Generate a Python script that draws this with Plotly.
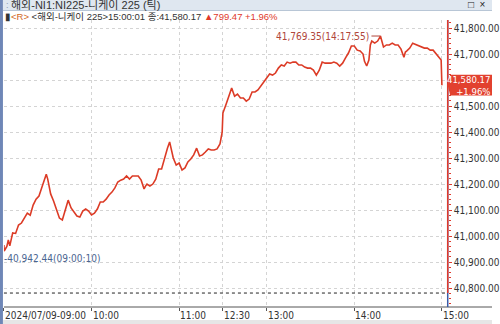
import plotly.graph_objects as go

# ---------------- data ----------------
times = [
    "09:00:00", "09:00:10", "09:02:00", "09:03:00", "09:04:00", "09:06:00", "09:08:00", "09:10:00",
    "09:12:00", "09:14:00", "09:16:00", "09:18:00", "09:20:00", "09:22:00", "09:24:00", "09:26:00",
    "09:28:00", "09:29:00", "09:30:00", "09:32:00", "09:34:00", "09:36:00", "09:38:00", "09:40:00",
    "09:42:00", "09:44:00", "09:46:00", "09:48:00", "09:50:00", "09:52:00", "09:54:00", "09:56:00",
    "09:58:00", "10:00:00", "10:02:00", "10:04:00", "10:06:00", "10:08:00", "10:10:00", "10:12:00",
    "10:14:00", "10:16:00", "10:18:00", "10:20:00", "10:22:00", "10:24:00", "10:26:00", "10:28:00",
    "10:30:00", "10:32:00", "10:34:00", "10:36:00", "10:37:00", "10:38:00", "10:40:00", "10:42:00",
    "10:44:00", "10:46:00", "10:48:00", "10:50:00", "10:52:00", "10:53:30", "10:55:00", "10:56:00",
    "10:58:00", "11:00:00", "11:02:00", "11:04:00", "11:06:00", "11:08:00", "11:10:00", "11:12:00",
    "11:14:00", "11:16:00", "11:18:00", "11:20:00", "11:22:00", "11:24:00", "11:26:00", "11:28:00",
    "11:29:30",
    "12:30:00", "12:32:00", "12:34:00", "12:36:00", "12:38:00", "12:40:00", "12:42:00", "12:44:00",
    "12:46:00", "12:48:00", "12:50:00", "12:52:00", "12:54:00", "12:56:00", "12:58:00", "13:00:00",
    "13:02:00", "13:04:00", "13:06:00", "13:08:00", "13:10:00", "13:12:00", "13:14:00", "13:16:00",
    "13:18:00", "13:20:00", "13:22:00", "13:24:00", "13:26:00", "13:28:00", "13:30:00", "13:32:00",
    "13:34:00", "13:36:00", "13:38:00", "13:40:00", "13:42:00", "13:44:00", "13:46:00", "13:48:00",
    "13:50:00", "13:52:00", "13:54:00", "13:56:00", "13:58:00", "14:00:00", "14:02:00", "14:04:00",
    "14:06:00", "14:07:00", "14:08:30", "14:10:00", "14:11:00", "14:12:00", "14:14:00", "14:16:00",
    "14:17:55", "14:19:00", "14:20:00", "14:22:00", "14:24:00", "14:26:00", "14:28:00", "14:30:00",
    "14:32:00", "14:34:00", "14:35:00", "14:36:00", "14:38:00", "14:40:00", "14:42:00", "14:44:00",
    "14:46:00", "14:48:00", "14:50:00", "14:52:00", "14:54:00", "14:56:00", "14:58:00", "14:59:30",
    "15:00:01",
]
prices = [
    40965, 40942.44, 40960, 40985, 40962, 41012, 41010, 41042,
    41050, 41069, 41088, 41080, 41119, 41142, 41154, 41188,
    41227, 41238, 41219, 41162, 41135, 41100, 41069, 41062,
    41100, 41138, 41108, 41092, 41077, 41073, 41096, 41104,
    41096, 41081, 41088, 41104, 41131, 41131, 41142, 41158,
    41169, 41185, 41208, 41215, 41219, 41231, 41219, 41231,
    41231, 41231, 41215, 41181, 41192, 41200, 41192, 41200,
    41219, 41258, 41258, 41300, 41338, 41362, 41319, 41300,
    41273, 41281, 41254, 41262, 41285, 41296, 41312, 41338,
    41308, 41312, 41323, 41335, 41331, 41331, 41335, 41354,
    41400,
    41473, 41504, 41535, 41569, 41538, 41546, 41531, 41531,
    41519, 41527, 41554, 41554, 41562, 41577, 41592, 41608,
    41623, 41619, 41627, 41646, 41658, 41654, 41669, 41665,
    41669, 41669, 41658, 41658, 41650, 41646, 41646, 41638,
    41619, 41638, 41669, 41665, 41665, 41665, 41669, 41665,
    41654, 41665, 41685, 41704, 41731, 41731, 41715, 41712,
    41700, 41672, 41654, 41677, 41735, 41750, 41742, 41750,
    41769.35, 41748, 41727, 41735, 41735, 41742, 41735, 41735,
    41719, 41688, 41708, 41712, 41723, 41742, 41738, 41731,
    41727, 41723, 41723, 41715, 41715, 41700, 41688, 41677,
    41580.17,
]
tick_times = ["09:00", "10:00", "11:00", "12:30", "13:00", "14:00", "15:00"]
tick_labels = ["2024/07/09-09:00", "10:00", "11:00", "12:30", "13:00", "14:00", "15:00"]
y_ticks = [40800, 40900, 41000, 41100, 41200, 41300, 41400, 41500, 41600, 41700, 41800]

last_price = 41580.17
change = 799.47
change_pct = 1.96
prev_close = last_price - change
max_price, max_time = 41769.35, "14:17:55"
min_price, min_time = 40942.44, "09:00:10"
title1 = "해외-NI1:NI225-니케이 225 (틱)"

FONT = "Liberation Sans, Noto Sans CJK KR, sans-serif"
NUMFONT = "Liberation Sans Narrow, DejaVu Sans Condensed, Liberation Sans, sans-serif"
RED = "#dc3b26"


def session_min(t):
    parts = [int(p) for p in t.split(":")]
    while len(parts) < 3:
        parts.append(0)
    h, m, s = parts
    tot = h * 60 + m + s / 60.0 - 9 * 60
    if tot >= 210:  # afternoon session, skip lunch break 11:30-12:30
        tot -= 60
    return tot


xs = [session_min(t) for t in times]
tick_x = [session_min(t) for t in tick_times]

W, H = 500, 324
x_dom = [4 / W, 455 / W]
y_dom = [17 / H, 304 / H]

fig = go.Figure()
fig.add_trace(go.Scatter(x=xs, y=prices, mode="lines",
                         line=dict(color=RED, width=1.6), hoverinfo="skip",
                         showlegend=False))

shapes = []
shapes.append(dict(type="rect", xref="paper", yref="paper", x0=0, x1=3 / W, y0=0, y1=1,
                   fillcolor="#6f87b7", line=dict(width=0), layer="above"))
shapes.append(dict(type="rect", xref="paper", yref="paper", x0=3 / W, x1=1, y0=(H - 10) / H, y1=1,
                   fillcolor="#dfe7f0", line=dict(width=0)))
shapes.append(dict(type="line", xref="paper", yref="paper", x0=3 / W, x1=1, y0=(H - 10.5) / H,
                   y1=(H - 10.5) / H, line=dict(color="#b8c6d6", width=1)))
shapes.append(dict(type="rect", xref="paper", yref="paper", x0=3 / W, x1=1, y0=0, y1=4 / H,
                   fillcolor="#e6e6e6", line=dict(width=0)))
shapes.append(dict(type="line", xref="paper", yref="paper", x0=x_dom[0], x1=1, y0=y_dom[0], y1=y_dom[0],
                   line=dict(color="#555555", width=1)))
shapes.append(dict(type="line", xref="paper", yref="y", x0=x_dom[0], x1=x_dom[1], y0=prev_close,
                   y1=prev_close, line=dict(color="#222222", width=1, dash="dot")))
shapes.append(dict(type="line", xref="paper", yref="paper", x0=x_dom[1], x1=x_dom[1], y0=y_dom[0],
                   y1=y_dom[1], line=dict(color="#3a5ca8", width=1.5)))
shapes.append(dict(type="line", xref="paper", yref="y", x0=x_dom[1], x1=x_dom[1], y0=prev_close,
                   y1=41831, line=dict(color="#e0392b", width=1.5)))
# current price box with left pointer
shapes.append(dict(type="path", xref="paper", yref="y",
                   path=(f"M {x_dom[1]},{last_price} L {x_dom[1] + 0.005},{last_price + 40} "
                         f"L 1,{last_price + 40} L 1,{last_price - 40} "
                         f"L {x_dom[1] + 0.005},{last_price - 40} Z"),
                   fillcolor="#e2412f", line=dict(width=0)))

ann = []
for tx, tl in zip(tick_x, tick_labels):
    ann.append(dict(x=tx, y=(H - 315) / H, xref="x", yref="paper", text=tl, showarrow=False,
                    xanchor="left", yanchor="middle", xshift=-1,
                    font=dict(family=NUMFONT, size=10, color="#333333")))
ann.append(dict(x=9 / W, y=(H - 5) / H, xref="paper", yref="paper", text=title1, showarrow=False,
                xanchor="left", yanchor="middle", font=dict(family=FONT, size=11, color="#333333")))
ann.append(dict(x=4 / W, y=(H - 5) / H, xref="paper", yref="paper", text=":", showarrow=False,
                xanchor="left", yanchor="middle", font=dict(family=FONT, size=9, color="#8a9ab0")))
ann.append(dict(x=474 / W, y=(H - 5) / H, xref="paper", yref="paper", text="□  ×", showarrow=False,
                xanchor="left", yanchor="middle", font=dict(family=FONT, size=10, color="#222222")))
ann.append(dict(x=3 / W, y=(H - 16) / H, xref="paper", yref="paper",
                text=("▮<span style='color:#d2691e'>&lt;R&gt;</span> &lt;해외-니케이 225&gt;15:00:01 "
                      f"종:{last_price:,.2f} "
                      f"<span style='color:#e0392b'>▲{change:,.2f} +{change_pct:.2f}%</span>"),
                showarrow=False, xanchor="left", yanchor="middle",
                font=dict(family=FONT, size=9.5, color="#333333")))
ann.append(dict(x=session_min(max_time), y=max_price, xref="x", yref="y",
                text=f"{max_price:,.2f}({max_time})", showarrow=True, arrowhead=0, arrowwidth=1,
                arrowcolor="#b0463a", ax=-9, ay=0, xanchor="right", yanchor="middle",
                font=dict(family=NUMFONT, size=10, color="#b0463a")))
ann.append(dict(x=session_min(min_time), y=min_price, xref="x", yref="y",
                text=f"-{min_price:,.2f}({min_time})", showarrow=False, xanchor="left",
                yanchor="middle", yshift=-8, xshift=-2,
                font=dict(family=NUMFONT, size=10, color="#4a6591")))
ann.append(dict(x=1, y=last_price, xref="paper", yref="y",
                text=f"{last_price:,.2f}<br>+{change_pct:.2f}%", showarrow=False, xanchor="right",
                yanchor="middle", align="right", borderpad=0, xshift=-1,
                font=dict(family=NUMFONT, size=9.5, color="white")))

fig.update_layout(
    width=W, height=H, margin=dict(l=0, r=0, t=0, b=0),
    paper_bgcolor="white", plot_bgcolor="white", showlegend=False,
    shapes=shapes, annotations=ann, hovermode=False,
    xaxis=dict(domain=x_dom, range=[0, 304], tickvals=tick_x, showticklabels=False,
               showgrid=True, gridcolor="#d4d4d4", griddash="dot", gridwidth=1,
               ticks="outside", ticklen=3, tickcolor="#555555", showline=False, zeroline=False,
               fixedrange=True),
    yaxis=dict(domain=y_dom, range=[40727, 41831], side="right", tickvals=y_ticks,
               ticktext=["" if v == 41600 else f"{v:,.2f}" for v in y_ticks],
               ticks="outside", ticklen=3, tickcolor="#e0392b",
               tickfont=dict(family=NUMFONT, size=10, color="#333333"),
               minor=dict(dtick=20, ticks="outside", ticklen=2, tickcolor="#e0392b", showgrid=False),
               showgrid=True, gridcolor="#d4d4d4", griddash="dot", gridwidth=1,
               showline=False, zeroline=False, fixedrange=True),
)

fig.write_html("out.html")
